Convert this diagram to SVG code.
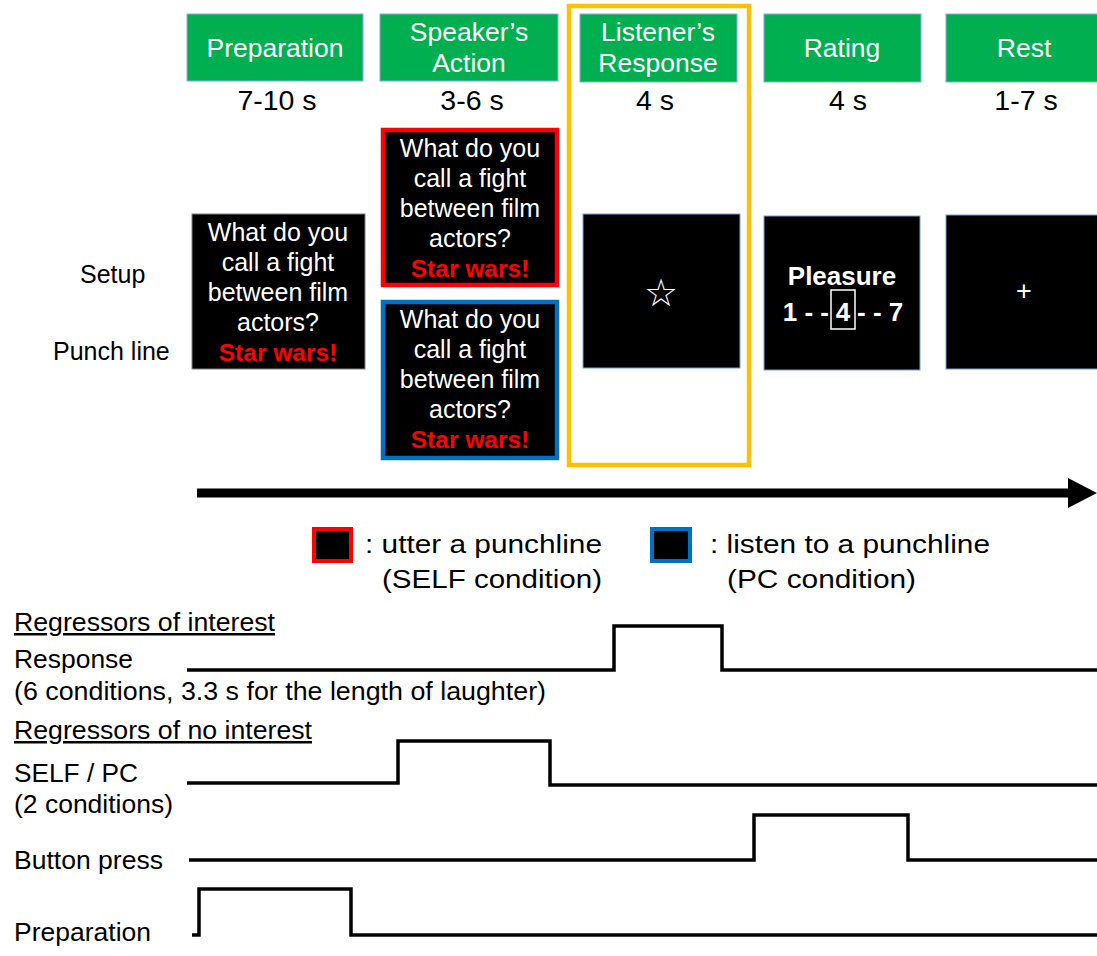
<svg xmlns="http://www.w3.org/2000/svg" width="1097" height="956" viewBox="0 0 1097 956">
<style>
text{font-family:"Liberation Sans",Arial,sans-serif}
.hdr{fill:#00b050;stroke:#8eaadb;stroke-width:1}
.hdrt{fill:#fff;font-size:26.5px;text-anchor:middle}
.dur{fill:#000;font-size:28.5px;text-anchor:middle}
.scr{fill:#000;stroke:#6f9fd8;stroke-width:1}
.wt{fill:#fff;font-size:25px;text-anchor:middle}
.sw{fill:#ff0000;font-size:24.5px;font-weight:bold;text-anchor:middle}
.lbl{fill:#000;font-size:25px}
.step{fill:none;stroke:#000;stroke-width:3.5;stroke-linejoin:miter}
.bt{fill:#fff;font-size:26px;font-weight:bold}
</style>
<rect width="1097" height="956" fill="#fff"/>

<g id="hdr-preparation"><rect class="hdr" x="187" y="14" width="176" height="67"/><text class="hdrt" x="275" y="57">Preparation</text><text class="dur" x="277" y="110">7-10 s</text></g>
<g id="hdr-speaker"><rect class="hdr" x="380" y="14" width="178" height="67"/><text class="hdrt" x="469" y="41">Speaker’s</text><text class="hdrt" x="469" y="72">Action</text><text class="dur" x="472" y="110">3-6 s</text></g>
<g id="hdr-listener"><rect class="hdr" x="580" y="14" width="157" height="68"/><text class="hdrt" x="658" y="41">Listener’s</text><text class="hdrt" x="658" y="72">Response</text><text class="dur" x="655" y="110">4 s</text></g>
<g id="hdr-rating"><rect class="hdr" x="764" y="14" width="157" height="68"/><text class="hdrt" x="842" y="57">Rating</text><text class="dur" x="848" y="110">4 s</text></g>
<g id="hdr-rest"><rect class="hdr" x="946" y="14" width="160" height="68"/><text class="hdrt" x="1024" y="57">Rest</text><text class="dur" x="1026" y="110">1-7 s</text></g>

<g id="highlight"><rect x="569" y="6" width="180" height="459" fill="none" stroke="#ffc000" stroke-width="4.5"/></g>

<g id="row-labels"><text class="lbl" x="80" y="283" font-size="26">Setup</text><text class="lbl" x="53" y="360" font-size="26">Punch line</text></g>

<g id="screen-preparation"><rect x="192" y="214" width="173" height="155" fill="#000" stroke="#7f7f7f" stroke-width="1"/>
<text class="wt" x="278" y="241">What do you</text><text class="wt" x="278" y="271">call a fight</text><text class="wt" x="278" y="301">between film</text><text class="wt" x="278" y="331">actors?</text><text class="sw" x="278" y="361">Star wars!</text></g>

<g id="screen-self"><rect x="383" y="130" width="174" height="155" fill="#000" stroke="#ff0000" stroke-width="4.5"/>
<text class="wt" x="470" y="157">What do you</text><text class="wt" x="470" y="187">call a fight</text><text class="wt" x="470" y="217">between film</text><text class="wt" x="470" y="247">actors?</text><text class="sw" x="470" y="277">Star wars!</text></g>

<g id="screen-pc"><rect x="383" y="302" width="174" height="156" fill="#000" stroke="#0070c0" stroke-width="4.5"/>
<text class="wt" x="470" y="328">What do you</text><text class="wt" x="470" y="358">call a fight</text><text class="wt" x="470" y="388">between film</text><text class="wt" x="470" y="418">actors?</text><text class="sw" x="470" y="448">Star wars!</text></g>

<g id="screen-response"><rect class="scr" x="583" y="214" width="157" height="154"/><text x="661" y="306" fill="#fff" font-size="38" text-anchor="middle" style="font-family:'DejaVu Sans',sans-serif">☆</text></g>

<g id="screen-rating"><rect class="scr" x="764" y="216" width="156" height="154"/>
<text class="bt" x="842" y="285" text-anchor="middle">Pleasure</text>
<text class="bt" x="829" y="321" text-anchor="end">1 - -</text>
<text class="bt" x="843" y="321" text-anchor="middle">4</text>
<text class="bt" x="857" y="321">- - 7</text>
<rect x="831" y="290" width="24" height="39" fill="none" stroke="#fff" stroke-width="1.5"/></g>

<g id="screen-rest"><rect class="scr" x="946" y="215" width="160" height="154"/><text x="1024" y="300" fill="#fff" font-size="27" text-anchor="middle">+</text></g>

<g id="connectors">
<rect x="197" y="488.5" width="873" height="9" fill="#000"/>
<polygon points="1068,478 1097,493 1068,508" fill="#000"/>
</g>

<g id="legend">
<rect x="314" y="529" width="37" height="32" fill="#000" stroke="#ff0000" stroke-width="4"/>
<text class="lbl" x="365" y="553" textLength="237" lengthAdjust="spacingAndGlyphs">: utter a punchline</text>
<text class="lbl" x="382" y="588" textLength="220" lengthAdjust="spacingAndGlyphs">(SELF condition)</text>
<rect x="652" y="529" width="38" height="32" fill="#000" stroke="#0070c0" stroke-width="4"/>
<text class="lbl" x="710" y="553" textLength="280" lengthAdjust="spacingAndGlyphs">: listen to a punchline</text>
<text class="lbl" x="727" y="588" textLength="189" lengthAdjust="spacingAndGlyphs">(PC condition)</text>
</g>

<g id="regressors">
<text class="lbl" x="14" y="631" textLength="261" lengthAdjust="spacingAndGlyphs" text-decoration="underline">Regressors of interest</text>
<text class="lbl" x="14" y="668" textLength="119" lengthAdjust="spacingAndGlyphs">Response</text>
<text class="lbl" x="14" y="700" textLength="532" lengthAdjust="spacingAndGlyphs">(6 conditions, 3.3 s for the length of laughter)</text>
<path class="step" d="M187,670 H614 V626 H722 V670 H1097"/>
<text class="lbl" x="14" y="739" textLength="298" lengthAdjust="spacingAndGlyphs" text-decoration="underline">Regressors of no interest</text>
<text class="lbl" x="14" y="782" textLength="124" lengthAdjust="spacingAndGlyphs">SELF / PC</text>
<text class="lbl" x="14" y="813" textLength="159" lengthAdjust="spacingAndGlyphs">(2 conditions)</text>
<path class="step" d="M187,783 H398 V741 H550 V785 H1097"/>
<text class="lbl" x="14" y="869" textLength="149" lengthAdjust="spacingAndGlyphs">Button press</text>
<path class="step" d="M189,860 H754 V815 H908 V860 H1097"/>
<text class="lbl" x="14" y="941" textLength="137" lengthAdjust="spacingAndGlyphs">Preparation</text>
<path class="step" d="M192,935 H199 V889 H351 V935 H1097"/>
</g>
</svg>
